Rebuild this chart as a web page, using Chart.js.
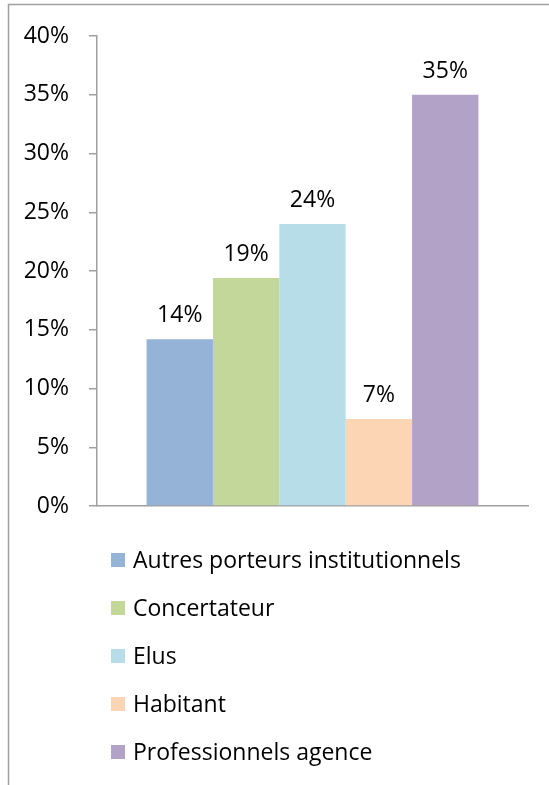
<!DOCTYPE html>
<html>
<head>
<meta charset="utf-8">
<script src="https://cdn.jsdelivr.net/npm/chart.js@4.4.1/dist/chart.umd.min.js"></script>
<style>
  html, body { margin: 0; padding: 0; background: #fff; }
  #wrap { width: 549px; height: 785px; }
</style>
</head>
<body>
<div id="wrap"><canvas id="chart" width="549" height="785"></canvas></div>
<script>
// one category, one bar per respondent group
var groups  = ['Autres porteurs institutionnels', 'Concertateur', 'Elus', 'Habitant', 'Professionnels agence'];
var shares  = [0.142, 0.194, 0.24, 0.074, 0.35];
var colours = ['#95b3d7', '#c4d79b', '#b7dde8', '#fcd5b5', '#b2a2c7'];
var yTicks  = [0, 0.05, 0.10, 0.15, 0.20, 0.25, 0.30, 0.35, 0.40];

var FONT = '"Open Sans", sans-serif';
var SIZE = 23;
var AXIS = '#a0a0a0';

var pct = function(v) { return Math.round(v * 100) + '%'; };

// outer frame (only top and left edges show)
var framePlugin = {
	id: 'frame',
	beforeDraw: function(chart) {
		var ctx = chart.ctx;
		ctx.save();
		ctx.fillStyle = '#fff';
		ctx.fillRect(0, 0, chart.width, chart.height);
		ctx.strokeStyle = AXIS;
		ctx.lineWidth = 1.5;
		ctx.beginPath();
		ctx.moveTo(8.5, chart.height);
		ctx.lineTo(8.5, 4.5);
		ctx.lineTo(chart.width, 4.5);
		ctx.stroke();
		ctx.restore();
	}
};

// percentage above each bar
var valuePlugin = {
	id: 'values',
	afterDatasetsDraw: function(chart) {
		var ctx = chart.ctx;
		ctx.save();
		ctx.font = SIZE + 'px ' + FONT;
		ctx.fillStyle = '#000';
		ctx.textAlign = 'center';
		ctx.textBaseline = 'alphabetic';
		chart.data.datasets.forEach(function(ds, i) {
			var bar = chart.getDatasetMeta(i).data[0];
			ctx.fillText(pct(ds.data[0]), bar.x, bar.y - 17);
		});
		ctx.restore();
	}
};

// stacked legend list under the plot
var legendPlugin = {
	id: 'legendList',
	afterDraw: function(chart) {
		var ctx = chart.ctx;
		ctx.save();
		ctx.font = SIZE + 'px ' + FONT;
		ctx.textAlign = 'left';
		ctx.textBaseline = 'middle';
		chart.data.datasets.forEach(function(ds, i) {
			var y = 560 + i * 48;
			ctx.fillStyle = ds.backgroundColor;
			ctx.fillRect(111, y - 7, 14, 14);
			ctx.fillStyle = '#000';
			ctx.fillText(ds.label, 133, y + 1);
		});
		ctx.restore();
	}
};

var datasets = groups.map(function(name, i) {
	return {
		label: name,
		data: [shares[i]],
		backgroundColor: colours[i],
		borderWidth: 0,
		categoryPercentage: 0.77,
		barPercentage: 1.0
	};
});

new Chart(document.getElementById('chart'), {
	type: 'bar',
	data: { labels: [''], datasets: datasets },
	options: {
		responsive: false,
		devicePixelRatio: 1,
		animation: false,
		layout: { padding: { top: 36, right: 21, bottom: 279, left: 0 } },
		plugins: {
			legend: { display: false },
			tooltip: { enabled: false }
		},
		scales: {
			x: {
				grid: { display: false, drawTicks: false },
				ticks: { display: false },
				border: { display: true, color: AXIS, width: 1.5 },
				afterFit: function(s) { s.height = 0; }
			},
			y: {
				min: 0,
				max: 0.4,
				afterBuildTicks: function(s) {
					s.ticks = yTicks.map(function(v) { return { value: v }; });
				},
				ticks: {
					padding: 20,
					color: '#000',
					font: { family: FONT, size: SIZE },
					callback: function(v) { return pct(v); }
				},
				grid: { drawOnChartArea: false, drawTicks: true, tickLength: 8, color: AXIS, lineWidth: 1.5 },
				border: { display: true, color: AXIS, width: 1.5 },
				afterFit: function(s) { s.width = 97; }
			}
		}
	},
	plugins: [framePlugin, valuePlugin, legendPlugin]
});
</script>
</body>
</html>
